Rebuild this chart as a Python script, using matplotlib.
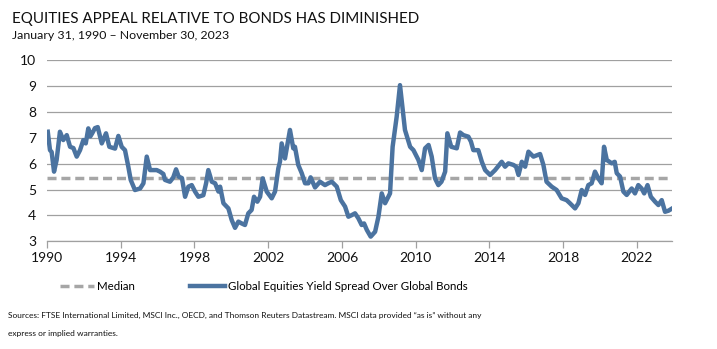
import matplotlib.pyplot as plt
from matplotlib.lines import Line2D

plt.rcParams['font.family'] = ['Lato', 'DejaVu Sans']

# yield spread, read at uneven dates (decimal years)
years = [
    1990.04, 1990.16, 1990.25, 1990.38, 1990.52, 1990.70, 1990.88, 1991.07, 1991.25, 1991.43,
    1991.61, 1991.79, 1991.97, 1992.10, 1992.24, 1992.35, 1992.45, 1992.60, 1992.75, 1992.97,
    1993.20, 1993.38, 1993.69, 1993.87, 1994.05, 1994.23, 1994.41, 1994.54, 1994.77, 1995.05,
    1995.23, 1995.41, 1995.59, 1995.95, 1996.13, 1996.31, 1996.40, 1996.67, 1996.85, 1997.00,
    1997.14, 1997.32, 1997.49, 1997.67, 1997.85, 1998.03, 1998.21, 1998.48, 1998.63, 1998.75,
    1998.94, 1999.12, 1999.30, 1999.39, 1999.57, 1999.84, 2000.02, 2000.20, 2000.38, 2000.56,
    2000.74, 2000.92, 2001.10, 2001.23, 2001.41, 2001.56, 2001.70, 2001.92, 2002.19, 2002.37,
    2002.55, 2002.64, 2002.73, 2002.91, 2003.18, 2003.36, 2003.45, 2003.63, 2003.82, 2004.00,
    2004.18, 2004.30, 2004.54, 2004.81, 2005.08, 2005.26, 2005.45, 2005.72, 2005.94, 2006.17,
    2006.35, 2006.53, 2006.71, 2006.89, 2007.07, 2007.20, 2007.35, 2007.56, 2007.80, 2007.98,
    2008.16, 2008.34, 2008.61, 2008.75, 2008.97, 2009.15, 2009.42, 2009.70, 2009.88, 2010.15,
    2010.33, 2010.51, 2010.70, 2010.87, 2011.05, 2011.23, 2011.40, 2011.60, 2011.72, 2011.93,
    2012.23, 2012.41, 2012.59, 2012.86, 2013.00, 2013.13, 2013.40, 2013.59, 2013.77, 2014.04,
    2014.31, 2014.67, 2014.85, 2015.03, 2015.30, 2015.45, 2015.58, 2015.76, 2015.94, 2016.12,
    2016.39, 2016.75, 2016.93, 2017.10, 2017.38, 2017.65, 2017.92, 2018.19, 2018.37, 2018.65,
    2018.83, 2019.01, 2019.19, 2019.37, 2019.55, 2019.73, 2019.91, 2020.09, 2020.22, 2020.37,
    2020.64, 2020.80, 2020.91, 2021.09, 2021.27, 2021.45, 2021.72, 2021.90, 2022.08, 2022.26,
    2022.40, 2022.58, 2022.76, 2022.99, 2023.17, 2023.35, 2023.53, 2023.71, 2023.92,
]
spread = [
    7.23, 6.52, 6.45, 5.69, 6.14, 7.23, 6.91, 7.10, 6.65, 6.60,
    6.27, 6.52, 6.91, 6.78, 7.36, 7.05, 7.17, 7.37, 7.41, 6.78,
    7.17, 6.65, 6.58, 7.07, 6.65, 6.52, 5.88, 5.37, 4.98, 5.04,
    5.24, 6.27, 5.75, 5.75, 5.69, 5.60, 5.37, 5.30, 5.47, 5.78,
    5.50, 5.44, 4.72, 5.11, 5.17, 4.92, 4.72, 4.78, 5.24, 5.75,
    5.30, 5.24, 4.92, 5.11, 4.47, 4.27, 3.82, 3.52, 3.76, 3.69,
    3.63, 4.08, 4.21, 4.72, 4.53, 4.72, 5.43, 4.92, 4.66, 4.92,
    5.82, 6.08, 6.78, 6.20, 7.30, 6.59, 6.65, 5.95, 5.63, 5.24,
    5.24, 5.47, 5.08, 5.30, 5.17, 5.24, 5.30, 5.11, 4.59, 4.34,
    3.95, 4.01, 4.08, 3.89, 3.63, 3.69, 3.44, 3.18, 3.37, 3.95,
    4.85, 4.47, 4.85, 6.65, 7.81, 9.03, 7.30, 6.65, 6.52, 6.14,
    5.75, 6.59, 6.72, 6.27, 5.43, 5.17, 5.30, 5.69, 7.17, 6.65,
    6.59, 7.20, 7.10, 7.04, 6.85, 6.52, 6.52, 6.07, 5.75, 5.56,
    5.75, 6.07, 5.88, 6.01, 5.95, 5.88, 5.56, 6.07, 5.88, 6.46,
    6.27, 6.37, 5.95, 5.30, 5.11, 4.98, 4.66, 4.59, 4.47, 4.27,
    4.47, 4.98, 4.79, 5.17, 5.24, 5.69, 5.43, 5.24, 6.65, 6.14,
    6.01, 6.07, 5.63, 5.50, 4.92, 4.79, 5.04, 4.85, 5.17, 5.04,
    4.85, 5.17, 4.72, 4.53, 4.40, 4.59, 4.14, 4.18, 4.27,
]
median = 5.43
x_start, x_end = 1990.0, 2023.93
tick_years = list(range(1990, 2023, 4))

blue = '#4B73A0'
grey = '#A6A6A6'

fig = plt.figure(figsize=(7.17, 3.49), dpi=100)
ax = fig.add_axes([0.0656, 0.3086, 0.8722, 0.5194])

ax.plot([x_start, x_end], [median, median], color=grey, lw=2.5,
        dashes=(2.6, 1.4), zorder=2)
ax.plot(years, spread, color=blue, lw=3.2, solid_joinstyle='round', zorder=3)

ax.set_xlim(x_start, x_end)
ax.set_ylim(3, 10)
ax.set_yticks(range(3, 11))
ax.set_xticks(tick_years)
ax.set_xticklabels([str(y) for y in tick_years])
ax.grid(axis='y', color='#A0A0A0', lw=0.9)
ax.set_axisbelow(True)
for side in ['top', 'right', 'left']:
    ax.spines[side].set_visible(False)
ax.spines['bottom'].set_color('#A0A0A0')
ax.spines['bottom'].set_linewidth(0.9)
ax.tick_params(axis='y', length=0, pad=8, labelsize=10, labelcolor='#111111')
ax.tick_params(axis='x', length=5, width=0.9, color='#A0A0A0', pad=3,
               labelsize=10, labelcolor='#111111')

fig.text(0.017, 0.935, 'EQUITIES APPEAL RELATIVE TO BONDS HAS DIMINISHED',
         fontsize=10.9, color='#111111', va='baseline')
fig.text(0.017, 0.888, 'January 31, 1990 \u2013 November 30, 2023',
         fontsize=8.9, color='#111111', va='baseline')

handles = [
    Line2D([], [], color=grey, lw=2.5, dashes=(2.6, 1.4)),
    Line2D([], [], color=blue, lw=3.2),
]
fig.legend(handles, ['Median', 'Global Equities Yield Spread Over Global Bonds'],
           loc='center', bbox_to_anchor=(0.3675, 0.178), ncol=2, frameon=False,
           fontsize=8.3, handlelength=3.0, handletextpad=0.25, columnspacing=4.8)

fig.text(0.011, 0.09,
         'Sources: FTSE International Limited, MSCI Inc., OECD, and Thomson Reuters Datastream. '
         'MSCI data provided \u201cas is\u201d without any',
         fontsize=6.0, color='#111111', va='baseline')
fig.text(0.011, 0.038, 'express or implied warranties.',
         fontsize=6.0, color='#111111', va='baseline')

fig.savefig('out.png', dpi=100)
